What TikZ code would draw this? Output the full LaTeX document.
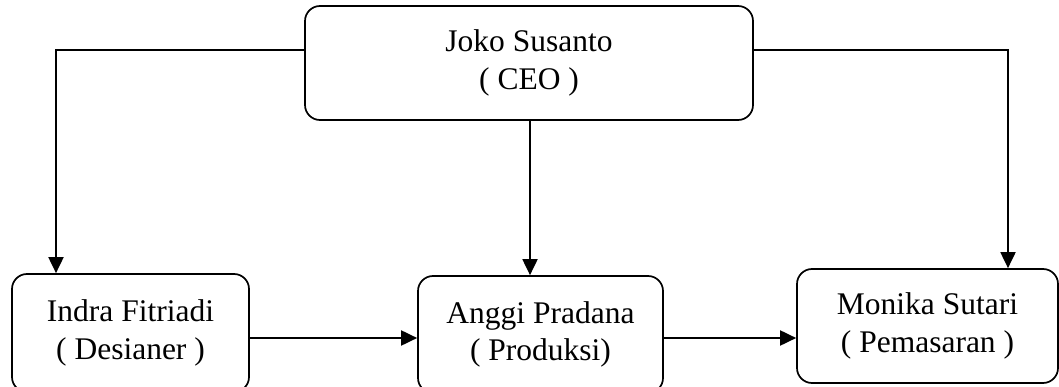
\documentclass[tikz,border=0pt]{standalone}
\usepackage{fontspec}
\setmainfont{Liberation Serif}
\usetikzlibrary{arrows.meta}
\begin{document}
\begin{tikzpicture}[x=1pt,y=-1pt,
  box/.style={draw,line width=1.7pt,rounded corners=15pt,align=center,
    font=\fontsize{31.5}{37.5}\selectfont,inner sep=0pt},
  conn/.style={line width=1.9pt,-{Triangle[length=16pt,width=15pt]}}]
\clip (0,0) rectangle (1059,387);
\fill[white] (0,0) rectangle (1059,387);
\node[box,minimum width=448pt,minimum height=114pt] (ceo) at (529,63) {Joko Susanto\\( CEO )};
\node[box,minimum width=237pt,minimum height=118pt] (indra) at (130.5,333) {Indra Fitriadi\\( Desianer )};
\node[box,minimum width=245pt,minimum height=117pt] (anggi) at (540.5,334.5) {Anggi Pradana\\( Produksi)};
\node[box,minimum width=261pt,minimum height=114pt] (monika) at (927.5,326) {Monika Sutari\\( Pemasaran )};
\coordinate (l) at (56,50);
\coordinate (r) at (1008,50);
\coordinate (m) at (530,100);
\coordinate (h) at (0,338);
\draw[conn] (ceo.west |- l) -- (l) -- (l |- indra.north);
\draw[conn] (ceo.east |- r) -- (r) -- (r |- monika.north);
\draw[conn] (m |- ceo.south) -- (m |- anggi.north);
\draw[conn] (indra.east |- h) -- (anggi.west |- h);
\draw[conn] (anggi.east |- h) -- (monika.west |- h);
\end{tikzpicture}
\end{document}
